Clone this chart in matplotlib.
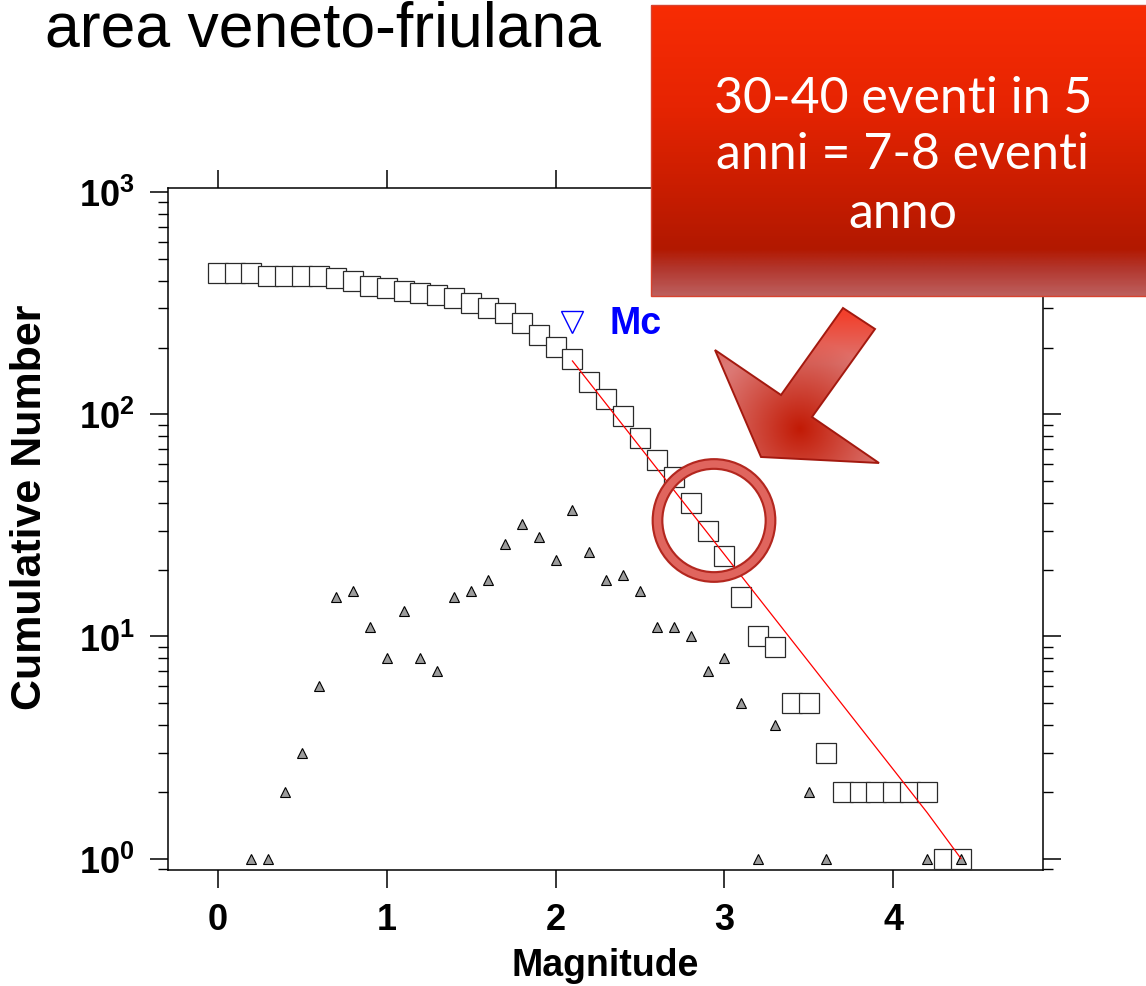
"""
Ricostruzione del grafico Gutenberg-Richter "area veneto-friulana":
numero cumulativo (quadrati) e non cumulativo (triangoli) per magnitudo,
con Mc, retta di fit e annotazioni (riquadro rosso, freccia, cerchio).

Output: out.png (1146 x 987 px)
"""

import numpy as np
import matplotlib
matplotlib.use('Agg')
import matplotlib.pyplot as plt
from matplotlib.patches import Polygon, Circle, Rectangle
from matplotlib.colors import LinearSegmentedColormap, to_rgb
from matplotlib.ticker import LogLocator, NullFormatter, NullLocator

W, H, DPI = 1146, 987, 100

plt.rcParams['font.family'] = ['Liberation Sans', 'DejaVu Sans']
plt.rcParams['mathtext.fontset'] = 'custom'
plt.rcParams['mathtext.rm'] = 'Liberation Sans'
plt.rcParams['mathtext.bf'] = 'Liberation Sans:bold'

# ----- Palette -----
C = {
    'text':      '#000000',
    'square':    '#2a2a2a',
    'tri_face':  '#9c9c9c',
    'fit':       '#ff0000',
    'mc':        '#0000ff',
    'ring_dark': '#b3271f',
    'ring':      '#e0655e',
    'arrow_ed':  '#a3190f',
}

# ----- Dati -----
# numero cumulativo per classe di magnitudo (quadrati)
CUM_MAG = [0.0, 0.1, 0.2, 0.3, 0.4, 0.5, 0.6, 0.7, 0.8, 0.9,
           1.0, 1.1, 1.2, 1.3, 1.4, 1.5, 1.6, 1.7, 1.8, 1.9,
           2.0, 2.1, 2.2, 2.3, 2.4, 2.5, 2.6, 2.7, 2.8, 2.9,
           3.0, 3.1, 3.2, 3.3, 3.4, 3.5, 3.6, 3.7, 3.8, 3.9,
           4.0, 4.1, 4.2, 4.3, 4.4]
CUM_N = [432, 432, 432, 422, 421, 420, 418, 411, 399, 380,
         371, 361, 353, 344, 335, 318, 302, 287, 259, 228,
         201, 177, 140, 117, 98, 78, 62, 52, 40, 30,
         23, 15, 10, 9, 5, 5, 3, 2, 2, 2,
         2, 2, 2, 1, 1]

# numero di eventi per classe (triangoli)
INC_MAG = [0.2, 0.3, 0.4, 0.5, 0.6, 0.7, 0.8, 0.9, 1.0, 1.1,
           1.2, 1.3, 1.4, 1.5, 1.6, 1.7, 1.8, 1.9, 2.0, 2.1,
           2.2, 2.3, 2.4, 2.5, 2.6, 2.7, 2.8, 2.9, 3.0, 3.1,
           3.2, 3.3, 3.5, 3.6, 4.2, 4.4]
INC_N = [1, 1, 2, 3, 6, 15, 16, 11, 8, 13,
         8, 7, 15, 16, 18, 26, 32, 28, 22, 37,
         24, 18, 19, 16, 11, 11, 10, 7, 8, 5,
         1, 4, 2, 1, 1, 1]

# retta di fit (Gutenberg-Richter) sopra Mc
FIT_MAG = [2.1, 4.2, 4.4]
FIT_N = [174, 1.61, 1.0]

# magnitudo di completezza
MC_MAG = 2.1
MC_N = 260

X_TICKS = [0, 1, 2, 3, 4]
Y_TICKS = [1, 10, 100, 1000]
Y_TICKLABELS = [r'$\mathbf{10^{0}}$', r'$\mathbf{10^{1}}$',
                r'$\mathbf{10^{2}}$', r'$\mathbf{10^{3}}$']

BOX_LINES = ['30-40 eventi in 5', 'anni = 7-8 eventi', 'anno']


def px_rect(x0, y0, x1, y1):
    """Pixel box (origin top-left) -> figure fraction rect."""
    return [x0 / W, 1 - y1 / H, (x1 - x0) / W, (y1 - y0) / H]


def panel_gr(ax):
    ax.plot(CUM_MAG, CUM_N, ls='none', marker='s', markersize=14,
            markerfacecolor='white', markeredgecolor=C['square'],
            markeredgewidth=0.9, zorder=3)
    ax.plot(INC_MAG, INC_N, ls='none', marker='^', markersize=7,
            markerfacecolor=C['tri_face'], markeredgecolor='black',
            markeredgewidth=0.8, zorder=4)
    ax.plot(FIT_MAG, FIT_N, color=C['fit'], lw=0.9, zorder=5)
    ax.plot([MC_MAG], [MC_N], ls='none', marker='v', markersize=16,
            markerfacecolor='none', markeredgecolor=C['mc'],
            markeredgewidth=1.0, zorder=5)
    ax.text(2.32, 232, 'Mc', color=C['mc'], fontsize=27,
            fontweight='bold', va='baseline', ha='left', zorder=6)

    ax.set_yscale('log')
    ax.set_xlim(-0.2925, 4.884)
    ax.set_ylim(0.888, 1049)

    ax.set_xticks(X_TICKS)
    ax.set_xticklabels([str(t) for t in X_TICKS], fontsize=26,
                       fontweight='bold')
    ax.xaxis.set_minor_locator(NullLocator())
    ax.set_yticks(Y_TICKS)
    ax.set_yticklabels(Y_TICKLABELS, fontsize=26)
    ax.yaxis.set_minor_locator(LogLocator(base=10, subs=np.arange(2, 10),
                                          numticks=20))
    ax.yaxis.set_minor_formatter(NullFormatter())

    ax.tick_params(which='both', direction='out', top=True, right=True,
                   labeltop=False, labelright=False, color='black')
    ax.tick_params(which='major', length=13, width=1.1)
    ax.tick_params(axis='x', which='major', pad=10)
    ax.tick_params(axis='y', which='major', pad=11)
    ax.tick_params(which='minor', length=7, width=1.0)
    for s in ax.spines.values():
        s.set_linewidth(1.1)

    ax.set_xlabel('Magnitude', fontsize=27, fontweight='bold', va='top')
    ax.xaxis.set_label_coords(0.5, -0.113)
    ax.set_ylabel('Cumulative Number', fontsize=31, fontweight='bold',
                  va='center', ha='center')
    ax.yaxis.set_label_coords(-0.158, 0.5335)


def draw_box(ov):
    """Riquadro rosso con gradiente verticale e testo bianco."""
    x0, x1, y0, y1 = 651, 1150, 6, 297
    stops = [(0.0, '#f82c04'), (0.35, '#e62402'), (0.62, '#ca1d00'),
             (0.84, '#b21800'), (0.91, '#b2372e'), (1.0, '#bd5f5d')]
    cmap = LinearSegmentedColormap.from_list('box', stops)
    grad = np.linspace(0, 1, 300).reshape(-1, 1)
    ov.imshow(grad, cmap=cmap, extent=(x0, x1, y1, y0), aspect='auto',
              interpolation='bilinear', zorder=2)
    ov.add_patch(Rectangle((x0, y0), x1 - x0, y1 - y0, fill=False,
                           edgecolor='#d8432f', lw=1.0, zorder=3))
    for txt, yb in zip(BOX_LINES, [113.3, 169, 228.3]):
        ov.text(903, yb, txt, color='white', fontsize=36,
                family=['Lato', 'DejaVu Sans'], fontweight='normal',
                ha='center', va='baseline', zorder=5)


def draw_arrow(ov):
    """Freccia a blocco rossa che punta verso il basso a sinistra."""
    verts = [(843, 309), (875, 330), (812, 418), (879, 464),
             (761, 458), (715, 351), (781, 396)]
    poly = Polygon(verts, closed=True, facecolor='none',
                   edgecolor=C['arrow_ed'], lw=1.4, zorder=4)
    ov.add_patch(poly)

    # gradiente radiale: scuro al centro, chiaro verso le punte
    bx0, bx1, by0, by1 = 700, 885, 300, 470
    xs = np.linspace(bx0, bx1, 200)
    ys = np.linspace(by0, by1, 180)
    xx, yy = np.meshgrid(xs, ys)
    t = np.clip(np.hypot(xx - 800, yy - 430) / 90.0, 0, 1)[..., None]
    dark = np.array(to_rgb('#c21a05'))
    light = np.array(to_rgb('#dc7874'))
    img = dark * (1 - t) + light * t
    # codolo in alto a destra piu' acceso
    tail = np.clip((365 - yy) / 50.0, 0, 1)[..., None]
    img = img * (1 - tail) + np.array(to_rgb('#f2402c')) * tail
    im = ov.imshow(img, extent=(bx0, bx1, by1, by0), aspect='auto',
                   interpolation='bilinear', zorder=3)
    im.set_clip_path(poly)


def draw_ring(ov):
    ov.add_patch(Circle((714, 521.5), 56.5, fill=False,
                        edgecolor=C['ring_dark'], lw=8.5, zorder=3))
    ov.add_patch(Circle((714, 521.5), 56.5, fill=False,
                        edgecolor=C['ring'], lw=5.4, zorder=4))


def build():
    fig = plt.figure(figsize=(W / DPI, H / DPI), dpi=DPI, facecolor='white')

    ax = fig.add_axes(px_rect(168.3, 188.7, 1042.7, 871))
    panel_gr(ax)

    fig.text(45 / W, 1 - 46.5 / H, 'area veneto-friulana', fontsize=45,
             color=C['text'], ha='left', va='baseline')

    # livello di annotazione in coordinate pixel
    ov = fig.add_axes([0, 0, 1, 1], zorder=10)
    ov.set_facecolor('none')
    ov.axis('off')
    draw_ring(ov)
    draw_arrow(ov)
    draw_box(ov)
    ov.set_xlim(0, W)
    ov.set_ylim(H, 0)

    fig.savefig('out.png', dpi=DPI, facecolor='white')
    plt.close(fig)


if __name__ == '__main__':
    build()
